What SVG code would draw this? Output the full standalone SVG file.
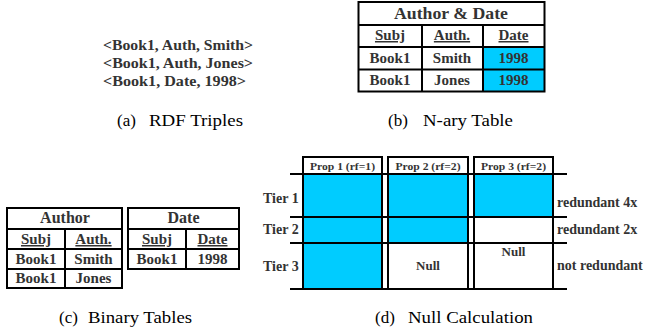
<svg xmlns="http://www.w3.org/2000/svg" width="645" height="335" viewBox="0 0 645 335">
<rect width="645" height="335" fill="#fff"/>
<g id="rdf" font-weight="bold" fill="#333" font-family="Liberation Serif">
<text font-family="Liberation Serif" x="103" y="50" font-size="14" textLength="150" lengthAdjust="spacingAndGlyphs">&lt;Book1, Auth, Smith&gt;</text>
<text font-family="Liberation Serif" x="103" y="68" font-size="14" textLength="150" lengthAdjust="spacingAndGlyphs">&lt;Book1, Auth, Jones&gt;</text>
<text font-family="Liberation Serif" x="103" y="86" font-size="14" textLength="143" lengthAdjust="spacingAndGlyphs">&lt;Book1, Date, 1998&gt;</text>
</g>

<g id="nary">
<rect fill="#00CCFF" x="483" y="47" width="61" height="44"/>
<g stroke="#000" stroke-width="2" fill="none">
<rect x="358.5" y="2" width="186" height="89.5"/>
<line x1="358.5" y1="25" x2="544.5" y2="25"/>
<line x1="358.5" y1="47" x2="544.5" y2="47"/>
<line x1="358.5" y1="69.5" x2="544.5" y2="69.5"/>
<line x1="422" y1="25" x2="422" y2="91.5"/>
<line x1="483" y1="25" x2="483" y2="91.5"/>
</g>
<g font-weight="bold" fill="#333" text-anchor="middle" font-size="15" font-family="Liberation Serif">
<text font-family="Liberation Serif" x="451" y="19" font-size="16" textLength="114" lengthAdjust="spacingAndGlyphs">Author &amp; Date</text>
<text font-family="Liberation Serif" text-decoration="underline" x="390" y="40">Subj</text>
<text font-family="Liberation Serif" text-decoration="underline" x="452" y="40">Auth.</text>
<text font-family="Liberation Serif" text-decoration="underline" x="513.5" y="40">Date</text>
<text font-family="Liberation Serif" x="390" y="63">Book1</text>
<text font-family="Liberation Serif" x="452" y="63">Smith</text>
<text font-family="Liberation Serif" x="513.5" y="63">1998</text>
<text font-family="Liberation Serif" x="390" y="85">Book1</text>
<text font-family="Liberation Serif" x="452" y="85">Jones</text>
<text font-family="Liberation Serif" x="513.5" y="85">1998</text>
</g>
</g>

<g id="author">
<g stroke="#000" stroke-width="2" fill="none">
<rect x="7" y="208" width="115" height="80"/>
<line x1="7" y1="229" x2="122" y2="229"/>
<line x1="7" y1="249" x2="122" y2="249"/>
<line x1="7" y1="269" x2="122" y2="269"/>
<line x1="65" y1="229" x2="65" y2="288"/>
</g>
<g font-weight="bold" fill="#333" text-anchor="middle" font-size="15" font-family="Liberation Serif">
<text font-family="Liberation Serif" x="65" y="223" font-size="16">Author</text>
<text font-family="Liberation Serif" text-decoration="underline" x="36" y="244">Subj</text>
<text font-family="Liberation Serif" text-decoration="underline" x="93.5" y="244">Auth.</text>
<text font-family="Liberation Serif" x="36" y="264">Book1</text>
<text font-family="Liberation Serif" x="93.5" y="264">Smith</text>
<text font-family="Liberation Serif" x="36" y="283">Book1</text>
<text font-family="Liberation Serif" x="93.5" y="283">Jones</text>
</g>
</g>

<g id="date">
<g stroke="#000" stroke-width="2" fill="none">
<rect x="128" y="208" width="111" height="61"/>
<line x1="128" y1="229" x2="239" y2="229"/>
<line x1="128" y1="249" x2="239" y2="249"/>
<line x1="186" y1="229" x2="186" y2="269"/>
</g>
<g font-weight="bold" fill="#333" text-anchor="middle" font-size="15" font-family="Liberation Serif">
<text font-family="Liberation Serif" x="183.5" y="223" font-size="16">Date</text>
<text font-family="Liberation Serif" text-decoration="underline" x="157" y="244">Subj</text>
<text font-family="Liberation Serif" text-decoration="underline" x="212.5" y="244">Date</text>
<text font-family="Liberation Serif" x="157" y="264">Book1</text>
<text font-family="Liberation Serif" x="212.5" y="264">1998</text>
</g>
</g>

<g id="tiers">
<g stroke="#000" stroke-width="2">
<line x1="290" y1="174" x2="567" y2="174"/>
<line x1="290" y1="217" x2="567" y2="217"/>
<line x1="290" y1="243" x2="567" y2="243"/>
<line x1="290" y1="289" x2="567" y2="289"/>
</g>
<g font-weight="bold" fill="#333" font-size="14" font-family="Liberation Serif">
<text font-family="Liberation Serif" x="263" y="203">Tier 1</text>
<text font-family="Liberation Serif" x="263" y="234">Tier 2</text>
<text font-family="Liberation Serif" x="263" y="271">Tier 3</text>
<text font-family="Liberation Serif" x="557" y="207">redundant 4x</text>
<text font-family="Liberation Serif" x="557" y="234">redundant 2x</text>
<text font-family="Liberation Serif" x="557" y="270">not redundant</text>
</g>
</g>

<g id="prop1">
<rect fill="#fff" x="303" y="157" width="79" height="17"/>
<rect fill="#00CCFF" x="303" y="174" width="79" height="115"/>
<g stroke="#000" stroke-width="2" fill="none">
<rect x="303" y="157" width="79" height="132"/>
<line x1="303" y1="174" x2="382" y2="174"/>
<line x1="303" y1="217" x2="382" y2="217"/>
<line x1="303" y1="243" x2="382" y2="243"/>
</g>
<text font-family="Liberation Serif" font-weight="bold" fill="#333" text-anchor="middle" x="342.5" y="170" font-size="11" textLength="65" lengthAdjust="spacingAndGlyphs">Prop 1 (rf=1)</text>
</g>

<g id="prop2">
<rect fill="#fff" x="388" y="157" width="80" height="132"/>
<rect fill="#00CCFF" x="388" y="174" width="80" height="69"/>
<g stroke="#000" stroke-width="2" fill="none">
<rect x="388" y="157" width="80" height="132"/>
<line x1="388" y1="174" x2="468" y2="174"/>
<line x1="388" y1="217" x2="468" y2="217"/>
<line x1="388" y1="243" x2="468" y2="243"/>
</g>
<text font-family="Liberation Serif" font-weight="bold" fill="#333" text-anchor="middle" x="428" y="170" font-size="11" textLength="65" lengthAdjust="spacingAndGlyphs">Prop 2 (rf=2)</text>
<text font-family="Liberation Serif" font-weight="bold" fill="#333" text-anchor="middle" x="428" y="270" font-size="13">Null</text>
</g>

<g id="prop3">
<rect fill="#fff" x="474" y="157" width="79" height="132"/>
<rect fill="#00CCFF" x="474" y="174" width="79" height="43"/>
<g stroke="#000" stroke-width="2" fill="none">
<rect x="474" y="157" width="79" height="132"/>
<line x1="474" y1="174" x2="553" y2="174"/>
<line x1="474" y1="217" x2="553" y2="217"/>
<line x1="474" y1="243" x2="553" y2="243"/>
</g>
<text font-family="Liberation Serif" font-weight="bold" fill="#333" text-anchor="middle" x="513.5" y="170" font-size="11" textLength="65" lengthAdjust="spacingAndGlyphs">Prop 3 (rf=2)</text>
<text font-family="Liberation Serif" font-weight="bold" fill="#333" text-anchor="middle" x="513.5" y="256" font-size="13">Null</text>
</g>

<g id="captions" font-size="17" fill="#000" font-family="Liberation Serif">
<text font-family="Liberation Serif" x="117" y="126">(a)</text>
<text font-family="Liberation Serif" x="149" y="126" textLength="94" lengthAdjust="spacingAndGlyphs">RDF Triples</text>
<text font-family="Liberation Serif" x="388" y="126">(b)</text>
<text font-family="Liberation Serif" x="423" y="126" textLength="90" lengthAdjust="spacingAndGlyphs">N-ary Table</text>
<text font-family="Liberation Serif" x="59" y="323">(c)</text>
<text font-family="Liberation Serif" x="88" y="323" textLength="104" lengthAdjust="spacingAndGlyphs">Binary Tables</text>
<text font-family="Liberation Serif" x="375" y="323">(d)</text>
<text font-family="Liberation Serif" x="408" y="323" textLength="125" lengthAdjust="spacingAndGlyphs">Null Calculation</text>
</g>
</svg>
